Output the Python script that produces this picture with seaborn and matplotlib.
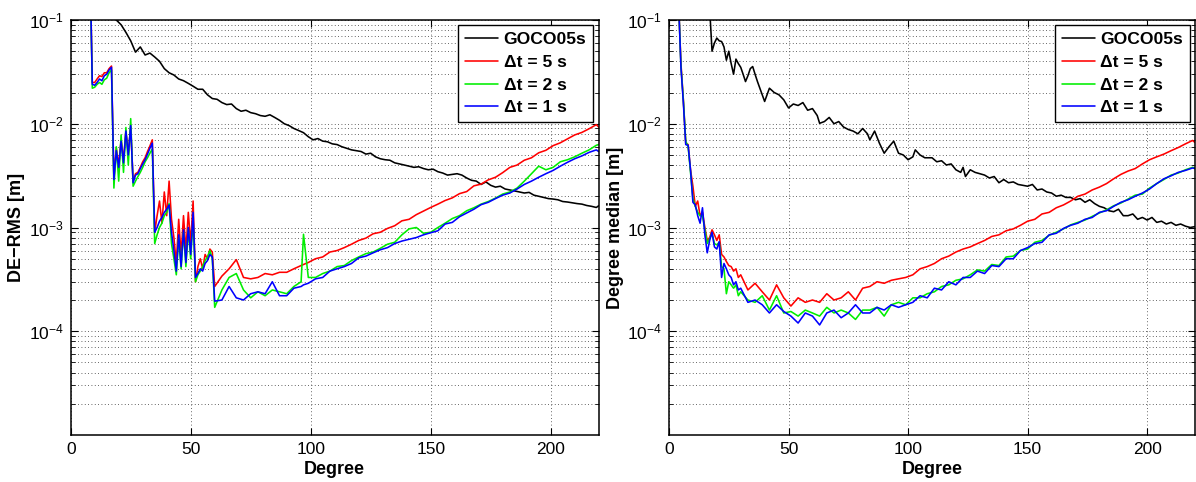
import numpy as np
import pandas as pd
import matplotlib
matplotlib.use("Agg")
import matplotlib.pyplot as plt
import seaborn as sns
from matplotlib.ticker import LogLocator, NullFormatter, LogFormatterMathtext, FixedLocator

sns.set_style("ticks")
plt.rcParams['font.family'] = ['Liberation Sans', 'DejaVu Sans']
plt.rcParams['mathtext.default'] = 'regular'
plt.rcParams['text.color'] = 'black'
plt.rcParams['axes.labelcolor'] = 'black'
plt.rcParams['xtick.color'] = 'black'
plt.rcParams['ytick.color'] = 'black'

# ---------------- data (values in mm) ----------------
series_labels = ["GOCO05s", "\u0394t = 5 s", "\u0394t = 2 s", "\u0394t = 1 s"]
series_colors = ["#000000", "#ff0000", "#00ee00", "#0000ff"]

# Left panel: DE-RMS
left_deg = list(range(8, 61)) + [63, 66, 69, 72, 75, 78, 81, 84, 87, 90, 93, 96, 97] + list(range(99, 220, 3)) + [220]

left_dt5 = [400, 25, 25, 27, 29, 28.5, 31, 31, 34, 36,
            3.0, 5.8, 4.0, 7.0, 4.5, 8.4, 5.3, 9.3, 2.8, 3.3,
            3.4, 3.8, 4.3, 4.7, 5.4, 6.1, 7.0, 0.90, 1.3, 1.8,
            1.1, 2.2, 1.3, 2.8, 1.2, 0.8, 0.45, 1.2, 0.55, 1.3,
            0.6, 1.4, 0.7, 1.8, 0.30, 0.42, 0.50, 0.40, 0.55, 0.50,
            0.62, 0.58, 0.27,
            0.34, 0.40, 0.49, 0.33, 0.32, 0.33, 0.36, 0.35, 0.37, 0.37, 0.40, 0.43, 0.44,
            0.46, 0.50, 0.52, 0.58, 0.60, 0.64, 0.69, 0.75, 0.79, 0.87, 0.90, 0.98, 1.04,
            1.16, 1.20, 1.33, 1.44, 1.56, 1.68, 1.82, 1.93, 2.12, 2.22, 2.52, 2.62, 2.88,
            3.05, 3.38, 3.80, 4.00, 4.45, 4.70, 5.25, 5.55, 6.15, 6.55, 7.15, 7.80, 8.25,
            8.95, 9.80, 9.30]

left_dt2 = [400, 22, 22.5, 24, 25, 24, 26.5, 27.5, 31, 33,
            2.4, 6.0, 2.8, 7.8, 3.4, 9.2, 4.0, 11.2, 2.5, 2.8,
            3.1, 3.4, 3.8, 4.3, 4.7, 5.2, 5.7, 0.70, 0.85, 1.0,
            1.1, 1.3, 1.4, 1.7, 0.7, 0.5, 0.35, 0.8, 0.40, 0.90,
            0.42, 0.95, 0.5, 1.2, 0.30, 0.35, 0.38, 0.42, 0.48, 0.52,
            0.60, 0.50, 0.17,
            0.25, 0.33, 0.36, 0.25, 0.21, 0.24, 0.22, 0.25, 0.24, 0.23, 0.27, 0.30, 0.86,
            0.33, 0.33, 0.36, 0.38, 0.42, 0.43, 0.48, 0.52, 0.56, 0.58, 0.63, 0.69, 0.72,
            0.85, 0.97, 1.00, 0.88, 0.90, 1.00, 1.10, 1.22, 1.30, 1.45, 1.55, 1.68, 1.78,
            1.92, 2.10, 2.20, 2.40, 2.80, 3.30, 3.90, 3.60, 3.80, 4.30, 4.50, 4.80, 5.20,
            5.60, 6.20, 6.30]

left_dt1 = [400, 24, 23.5, 25, 27, 26, 29, 30, 33, 35,
            2.9, 5.5, 3.8, 6.8, 4.2, 8.5, 5.0, 9.6, 2.7, 3.2,
            3.3, 3.7, 4.1, 4.5, 5.1, 5.8, 6.5, 0.90, 1.0, 1.15,
            1.25, 1.4, 1.5, 1.65, 0.9, 0.6, 0.38, 0.85, 0.42, 0.95,
            0.46, 1.0, 0.55, 1.4, 0.33, 0.36, 0.40, 0.38, 0.45, 0.48,
            0.55, 0.52, 0.195,
            0.20, 0.27, 0.21, 0.20, 0.23, 0.24, 0.23, 0.30, 0.22, 0.22, 0.26, 0.27, 0.28,
            0.29, 0.32, 0.33, 0.38, 0.40, 0.42, 0.45, 0.51, 0.53, 0.57, 0.61, 0.64, 0.70,
            0.74, 0.77, 0.80, 0.85, 0.89, 0.93, 1.08, 1.12, 1.27, 1.38, 1.50, 1.66, 1.75,
            1.90, 2.05, 2.15, 2.35, 2.60, 2.80, 3.05, 3.30, 3.55, 3.90, 4.25, 4.60, 4.90,
            5.30, 5.60, 5.40]

left_goco_deg = list(range(17, 220, 2)) + [220]
left_goco = [130, 100, 90, 76, 63, 49, 55, 46, 48, 44,
             40, 34, 31, 29.5, 27, 26, 24.5, 23, 21.5, 21.5,
             19, 17.5, 17.2, 16, 15.3, 15.5, 14, 13.2, 13.5, 12.8,
             12.5, 12, 11.8, 12.2, 11.5, 10.8, 10, 9.6, 9.0, 8.6,
             8.2, 7.5, 7.0, 7.2, 6.8, 6.7, 6.4, 6.3, 6.0, 5.8,
             5.6, 5.5, 5.4, 5.1, 5.2, 4.8, 4.6, 4.5, 4.45, 4.2,
             4.1, 4.0, 3.9, 3.8, 3.85, 3.7, 3.6, 3.65, 3.45, 3.35,
             3.2, 3.25, 3.3, 3.2, 3.0, 2.85, 2.8, 2.6, 2.75, 2.55,
             2.45, 2.5, 2.35, 2.3, 2.25, 2.2, 2.15, 2.18, 2.05, 2.0,
             1.95, 1.9, 1.88, 1.85, 1.78, 1.76, 1.73, 1.70, 1.68, 1.63,
             1.60, 1.56, 1.62]

# Right panel: degree median
right_deg = list(range(4, 31)) + list(range(33, 220, 3)) + [220]

right_dt5 = [150, 38, 17, 6.5, 6.3, 3.6, 2.5, 1.6, 1.8, 1.3,
             1.4, 1.0, 0.75, 0.80, 0.95, 0.85, 0.75, 0.85, 0.55, 0.52,
             0.47, 0.43, 0.42, 0.38, 0.40, 0.33, 0.35,
             0.25, 0.29, 0.24, 0.20, 0.28, 0.21, 0.175, 0.21, 0.19, 0.20,
             0.19, 0.23, 0.20, 0.21, 0.24, 0.20, 0.26, 0.27, 0.30, 0.29,
             0.31, 0.32, 0.33, 0.35, 0.40, 0.42, 0.45, 0.50, 0.53, 0.58,
             0.62, 0.65, 0.70, 0.75, 0.82, 0.85, 0.93, 0.97, 1.05, 1.15,
             1.20, 1.35, 1.40, 1.55, 1.65, 1.80, 2.00, 2.10, 2.30, 2.45,
             2.65, 2.95, 3.25, 3.50, 3.70, 4.10, 4.50, 4.80, 5.10, 5.50,
             5.90, 6.40, 6.90, 6.60]

right_dt2 = [150, 36, 17, 6.8, 6.0, 3.4, 1.9, 1.6, 1.4, 1.3,
             1.3, 0.95, 0.70, 0.78, 0.88, 0.70, 0.68, 0.72, 0.42, 0.40,
             0.23, 0.30, 0.28, 0.26, 0.28, 0.22, 0.24,
             0.20, 0.19, 0.22, 0.16, 0.22, 0.15, 0.155, 0.14, 0.16, 0.15,
             0.14, 0.17, 0.15, 0.16, 0.15, 0.13, 0.16, 0.16, 0.17, 0.14,
             0.18, 0.19, 0.18, 0.21, 0.21, 0.23, 0.24, 0.27, 0.28, 0.31,
             0.32, 0.35, 0.39, 0.38, 0.44, 0.43, 0.52, 0.53, 0.60, 0.62,
             0.72, 0.75, 0.84, 0.90, 0.97, 1.06, 1.12, 1.18, 1.28, 1.38,
             1.48, 1.62, 1.72, 1.88, 2.05, 2.10, 2.40, 2.65, 2.90, 3.20,
             3.35, 3.60, 3.80, 3.75]

right_dt1 = [150, 35, 16, 6.3, 6.2, 3.6, 1.75, 1.65, 1.3, 1.1,
             1.55, 0.85, 0.57, 0.75, 0.9, 0.65, 0.62, 0.73, 0.33, 0.45,
             0.40, 0.35, 0.33, 0.28, 0.30, 0.25, 0.26,
             0.19, 0.20, 0.18, 0.15, 0.18, 0.155, 0.14, 0.12, 0.15, 0.14,
             0.115, 0.15, 0.16, 0.135, 0.15, 0.18, 0.15, 0.15, 0.17, 0.16,
             0.18, 0.17, 0.18, 0.19, 0.22, 0.21, 0.26, 0.25, 0.30, 0.28,
             0.33, 0.33, 0.38, 0.36, 0.43, 0.42, 0.50, 0.50, 0.60, 0.64,
             0.70, 0.72, 0.85, 0.88, 0.98, 1.05, 1.10, 1.20, 1.25, 1.40,
             1.45, 1.60, 1.75, 1.85, 2.00, 2.15, 2.35, 2.65, 2.95, 3.15,
             3.40, 3.55, 3.75, 3.70]

right_goco_deg = [17, 18, 19, 20, 21, 22, 23, 24, 25, 26, 27, 28, 29, 30, 31, 32, 33, 34, 35, 36,
                  37, 38, 39, 40, 41, 42, 43, 44, 45, 46, 48, 50, 52, 54, 56, 58, 60, 62, 63, 65,
                  67, 69, 71, 73, 75, 77, 79, 81, 83, 84, 86, 88, 90, 92, 94, 96, 98, 100, 102, 103,
                  105, 107, 110, 112, 114, 116, 118, 120, 122, 123, 124, 126, 128, 130, 132, 134, 136, 138, 140, 142,
                  144, 146, 148, 150, 152, 154, 156, 158, 160, 162, 164, 166, 168, 170, 172, 174, 176, 178, 180, 182,
                  184, 186, 188, 190, 192, 194, 196, 198, 200, 202, 204, 206, 208, 210, 212, 214, 216, 218, 220]
right_goco = [130, 50, 60, 67, 63, 62, 55, 41, 50, 38, 30, 42, 38, 35, 30, 25.5, 29, 34, 35.6, 30,
              25.5, 22, 19, 16.4, 19, 22, 21, 20, 19.5, 19, 17, 14.2, 15.5, 15, 16, 13.5, 14, 12, 10.1, 10.5,
              11.5, 10, 10.5, 9.3, 8.8, 8.5, 8.0, 9.0, 8.0, 7.0, 8.5, 6.5, 5.2, 6.0, 6.8, 5.2, 5.0, 4.5, 4.8, 5.6,
              5.0, 4.7, 4.7, 4.3, 4.4, 4.0, 4.1, 3.6, 3.4, 3.8, 3.1, 3.6, 3.4, 3.3, 3.2, 3.0, 3.1, 2.7, 2.9, 2.7,
              2.75, 2.6, 2.55, 2.5, 2.6, 2.3, 2.35, 2.2, 2.15, 2.0, 2.05, 1.95, 1.95, 1.85, 1.90, 1.75, 1.85, 1.70, 1.60, 1.55,
              1.45, 1.42, 1.50, 1.30, 1.30, 1.35, 1.20, 1.25, 1.18, 1.25, 1.12, 1.15, 1.08, 1.12, 1.05, 1.08, 1.03, 1.00, 1.02]


def long_frame(parts):
    frames = []
    for lab, deg, vals in parts:
        assert len(deg) == len(vals), (lab, len(deg), len(vals))
        frames.append(pd.DataFrame({"Degree": deg, "value": np.array(vals) / 1000.0, "series": lab}))
    return pd.concat(frames, ignore_index=True)


left_df = long_frame([(series_labels[0], left_goco_deg, left_goco),
                      (series_labels[1], left_deg, left_dt5),
                      (series_labels[2], left_deg, left_dt2),
                      (series_labels[3], left_deg, left_dt1)])
right_df = long_frame([(series_labels[0], right_goco_deg, right_goco),
                       (series_labels[1], right_deg, right_dt5),
                       (series_labels[2], right_deg, right_dt2),
                       (series_labels[3], right_deg, right_dt1)])

W, H = 1196, 482
fig = plt.figure(figsize=(W / 100, H / 100), dpi=100)
ax_l = fig.add_axes([70.7 / W, 1 - 435 / H, 528 / W, 415 / H])
ax_r = fig.add_axes([669 / W, 1 - 435 / H, 526 / W, 415 / H])

palette = dict(zip(series_labels, series_colors))

for ax, df, ylab in [(ax_l, left_df, "DE\u2212RMS [m]"), (ax_r, right_df, "Degree median [m]")]:
    sns.lineplot(data=df, x="Degree", y="value", hue="series", hue_order=series_labels,
                 palette=palette, estimator=None, sort=True, linewidth=1.15, ax=ax, legend=True)
    ax.set_yscale("log")
    ax.set_xlim(0, 220)
    ax.set_ylim(1e-5, 1e-1)
    ax.set_xticks([0, 50, 100, 150, 200])
    ax.yaxis.set_major_locator(FixedLocator([1e-4, 1e-3, 1e-2, 1e-1]))
    ax.yaxis.set_major_formatter(LogFormatterMathtext())
    ax.yaxis.set_minor_locator(LogLocator(base=10, subs=np.arange(2, 10), numticks=20))
    ax.yaxis.set_minor_formatter(NullFormatter())
    ax.grid(True, which="major", axis="both", color="#333333", linestyle=(0, (1, 3)), linewidth=0.6)
    ax.grid(True, which="minor", axis="y", color="#333333", linestyle=(0, (1, 3)), linewidth=0.6)
    ax.tick_params(axis="both", which="major", direction="in", length=5, width=0.8,
                   top=True, right=True, labelsize=12.5, pad=5, colors="black")
    ax.tick_params(axis="y", which="minor", direction="in", length=3, width=0.6, right=True, left=True,
                   colors="black")
    for s in ax.spines.values():
        s.set_linewidth(1.1)
        s.set_color("black")
        s.set_visible(True)
    ax.set_xlabel("Degree", fontsize=13, fontweight="bold", color="black")
    ax.set_ylabel(ylab, fontsize=13, fontweight="bold", color="black")
    ax.xaxis.set_label_coords(0.5, -0.062)
    ax.yaxis.set_label_coords(-0.086, 0.5)
    handles, labels = ax.get_legend_handles_labels()
    leg = ax.legend(handles, labels, loc="upper right", prop={"weight": "bold", "size": 12.6},
                    frameon=True, fancybox=False, shadow=False, framealpha=1, edgecolor="black",
                    handlelength=1.9, handletextpad=0.3, labelspacing=0.42, borderpad=0.4,
                    borderaxespad=0.3)
    leg.get_frame().set_linewidth(1.0)
    for t in leg.get_texts():
        t.set_color("black")
    for ln in leg.get_lines():
        ln.set_linewidth(1.15)
    ax.set_facecolor("white")

fig.savefig("out.png", dpi=100, facecolor="white")
